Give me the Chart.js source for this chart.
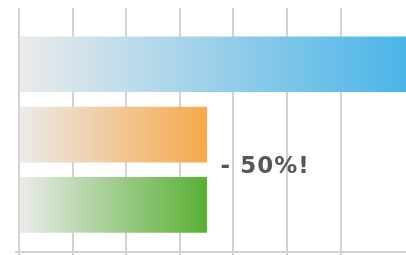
<!DOCTYPE html>
<html>
<head>
<meta charset="utf-8">
<script src="https://cdn.jsdelivr.net/npm/chart.js@4/dist/chart.umd.min.js"></script>
<style>
	html, body { margin: 0; padding: 0; background: #fff; }
	canvas { display: block; }
</style>
</head>
<body>
<canvas id="chart" width="406" height="255"></canvas>
<script>
// values
const categories = ['A', 'B', 'C'];
const barPositions = [0, 1, 2];
const barValues = [7.22, 3.5, 3.5];
const barColors = ['#4ab5e8', '#f7a84b', '#59b034'];
const calloutText = '- 50%!';

/** gradient from light grey at the axis to the bar colour at its end **/
function barGradient(context){
	const chart = context.chart;
	const area = chart.chartArea;
	if( !area ) return barColors[context.dataIndex];
	const xScale = chart.scales.x;
	const end = xScale.getPixelForValue(barValues[context.dataIndex]);
	const g = chart.ctx.createLinearGradient(area.left, 0, end, 0);
	g.addColorStop(0, '#ebebeb');
	g.addColorStop(1, barColors[context.dataIndex]);
	return g;
}

// callout next to the orange bar, plus the short axis stub on the left
const calloutPlugin = {
	id: 'callout',
	afterDraw(chart){
		const ctx = chart.ctx;
		const area = chart.chartArea;
		ctx.save();
		ctx.strokeStyle = '#d2d2d2';
		ctx.lineWidth = 2;
		ctx.beginPath();
		ctx.moveTo(area.left - 4, area.bottom);
		ctx.lineTo(area.left, area.bottom);
		ctx.stroke();

		const x = chart.scales.x.getPixelForValue(barValues[1]);
		const y = (chart.scales.y.getPixelForValue(barPositions[1]) + chart.scales.y.getPixelForValue(barPositions[2])) / 2;
		ctx.font = 'bold 23px "DejaVu Sans"';
		ctx.letterSpacing = '1px';
		ctx.fillStyle = '#575757';
		ctx.textBaseline = 'middle';
		ctx.fillText(calloutText, x + 14, y - 3);
		ctx.restore();
	}
};

new Chart(document.getElementById('chart'), {
	type: 'bar',
	data: {
		labels: categories,
		datasets: [{
			data: barPositions.map((p, i) => ({ x: barValues[i], y: p })),
			backgroundColor: barGradient,
			borderWidth: 0,
			barThickness: 55
		}]
	},
	options: {
		indexAxis: 'y',
		responsive: false,
		devicePixelRatio: 1,
		animation: false,
		layout: { padding: { left: 19, top: 8, right: 0, bottom: 0 } },
		plugins: { legend: { display: false }, tooltip: { enabled: false } },
		scales: {
			x: {
				type: 'linear',
				min: 0,
				max: 7.22,
				z: 1,
				ticks: { display: false, stepSize: 1 },
				grid: {
					color: (c) => Number.isInteger(c.tick && c.tick.value) ? '#d2d2d2' : 'rgba(0,0,0,0)',
					lineWidth: 2,
					tickLength: 3
				},
				border: { color: '#d2d2d2', width: 2 }
			},
			y: {
				type: 'linear',
				reverse: true,
				offset: false,
				min: -0.8,
				max: 2.67,
				display: false
			}
		}
	},
	plugins: [calloutPlugin]
});
</script>
</body>
</html>
